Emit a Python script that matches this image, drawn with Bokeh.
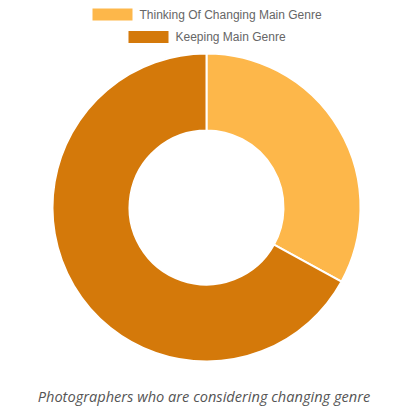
import math
import pandas as pd
from bokeh.plotting import figure
from bokeh.models import Range1d, ColumnDataSource
from bokeh.core.properties import value
from bokeh.embed import file_html
from bokeh.resources import INLINE

categories = ["Thinking Of Changing Main Genre", "Keeping Main Genre"]
values = [33, 67]
colors = ["#FDB74A", "#D4790A"]
caption = "Photographers who are considering changing genre"

W, H = 409, 406
p = figure(width=W, height=H, output_backend="svg", toolbar_location=None,
           x_range=Range1d(0, W), y_range=Range1d(0, H), min_border=0)
p.axis.visible = False
p.grid.visible = False
p.outline_line_color = None
p.background_fill_color = "white"
p.border_fill_color = "white"

df = pd.DataFrame({"cat": categories, "val": values, "color": colors})
total = df["val"].sum()
frac = df["val"] / total * 2 * math.pi
cum = frac.cumsum()
df["start"] = math.pi / 2 - cum
df["end"] = math.pi / 2 - (cum - frac)
src = ColumnDataSource(df)

cx, cy = 206, H - 207
p.annular_wedge(x=cx, y=cy, inner_radius=77, outer_radius=154,
                inner_radius_units="screen", outer_radius_units="screen",
                start_angle="start", end_angle="end", direction="anticlock",
                fill_color="color", line_color="white", line_width=2, source=src)

# legend
leg_box_x = [112, 148]
leg_y = [H - 14, H - 36.5]
leg_text_x = [139, 175]
p.rect(x=leg_box_x, y=leg_y, width=40, height=12, width_units="screen",
       height_units="screen", fill_color=colors, line_color=None)
p.text(x=leg_text_x, y=leg_y, text=categories, text_font=value("Liberation Sans"),
       text_font_size="12px", text_color="#666666", text_baseline="middle",
       text_align="left")

p.text(x=[203.5], y=[H - 395], text=[caption], text_font=value("Open Sans"),
       text_font_style="italic", text_font_size="14.6px", text_color="#555555",
       text_baseline="middle", text_align="center")

open("out.html", "w").write(file_html(p, INLINE))
